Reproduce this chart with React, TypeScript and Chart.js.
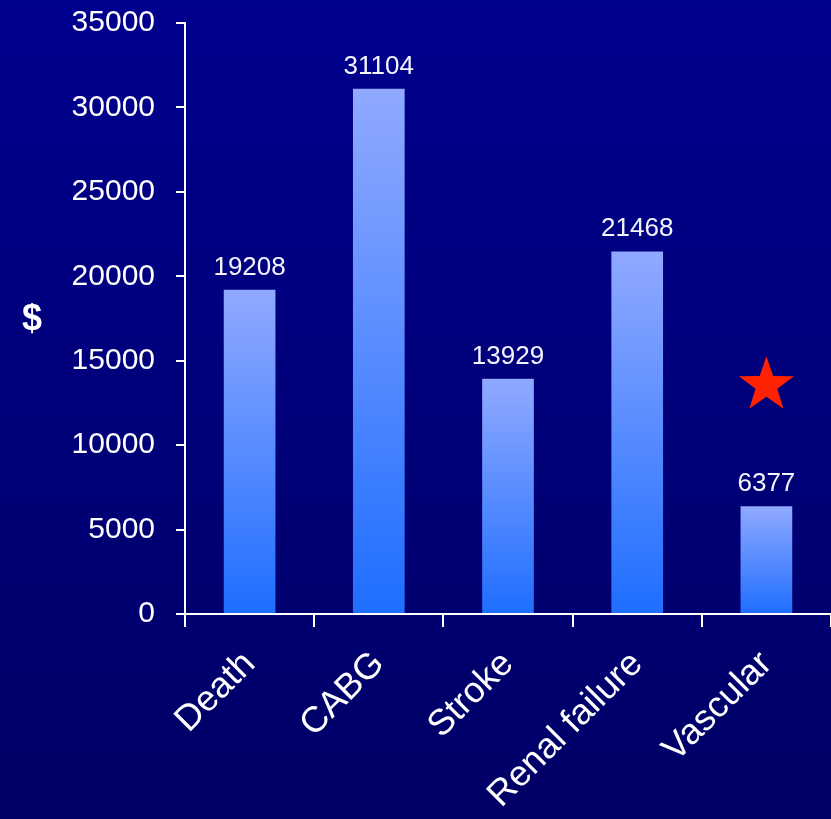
import React, { useEffect, useRef } from "react";
import { Chart, registerables } from "chart.js";

Chart.register(...registerables);

const categories = ["Death", "CABG", "Stroke", "Renal failure", "Vascular"];
const costs = [19208, 31104, 13929, 21468, 6377];
const starCategory = ["Vascular"];
const starValue = [13550];
const yMin = 0;
const yMax = 35000;
const yStep = 5000;
const axisTitle = "$";

const FONT = "'Liberation Sans', Arial, Helvetica, sans-serif";
const CANVAS_SHIFT = 16;

function drawStar(ctx: CanvasRenderingContext2D, cx: number, cy: number, R: number, r: number) {
  ctx.beginPath();
  for (let i = 0; i < 10; i++) {
    const rad = i % 2 === 0 ? R : r;
    const a = -Math.PI / 2 + (i * Math.PI) / 5;
    const x = cx + rad * Math.cos(a);
    const y = cy + rad * Math.sin(a);
    if (i === 0) ctx.moveTo(x, y);
    else ctx.lineTo(x, y);
  }
  ctx.closePath();
  ctx.fill();
}

const overlayPlugin = {
  id: "overlay",
  afterDatasetsDraw(chart: any) {
    const ctx = chart.ctx as CanvasRenderingContext2D;
    const meta = chart.getDatasetMeta(0);
    ctx.save();
    ctx.fillStyle = "#f4f4ff";
    ctx.font = `26px ${FONT}`;
    ctx.textAlign = "center";
    ctx.textBaseline = "alphabetic";
    meta.data.forEach((bar: any, i: number) => {
      ctx.fillText(String(costs[i]), bar.x, bar.y - 15);
    });
    // star
    const xs = chart.scales.x;
    const ys = chart.scales.y;
    const idx = categories.indexOf(starCategory[0]);
    const sx = xs.getPixelForValue(idx);
    const sy = ys.getPixelForValue(starValue[0]);
    ctx.fillStyle = "#ff2200";
    drawStar(ctx, sx, sy, 29, 11.5);
    // $ title
    const ca = chart.chartArea;
    ctx.fillStyle = "#ffffff";
    ctx.font = `bold 36px ${FONT}`;
    ctx.textAlign = "center";
    ctx.textBaseline = "middle";
    ctx.fillText(axisTitle, 32, (ca.top + ca.bottom) / 2 + 2);
    ctx.restore();
  },
};

export default function App() {
  const canvasRef = useRef<HTMLCanvasElement | null>(null);

  useEffect(() => {
    if (!canvasRef.current) return;
    const chart = new Chart(canvasRef.current, {
      type: "bar",
      data: {
        labels: categories,
        datasets: [
          {
            data: costs,
            backgroundColor: (c: any) => {
              const ch = c.chart;
              const { chartArea, scales } = ch;
              if (!chartArea || !scales || !scales.y || c.dataIndex === undefined) return "#5a8cff";
              const yTop = scales.y.getPixelForValue(costs[c.dataIndex]);
              const yBot = scales.y.getPixelForValue(0);
              const g = ch.ctx.createLinearGradient(0, yTop, 0, yBot);
              g.addColorStop(0, "#90a9ff");
              g.addColorStop(1, "#1f6eff");
              return g;
            },
            borderWidth: 0,
            categoryPercentage: 1,
            barPercentage: 0.4,
          },
        ],
      },
      options: {
        animation: false,
        responsive: false,
        maintainAspectRatio: false,
        layout: { padding: { top: 6, right: 0, left: 0, bottom: 0 } },
        plugins: {
          legend: { display: false },
          tooltip: { enabled: false },
          title: { display: false },
        },
        scales: {
          x: {
            afterFit: (s: any) => {
              s.height = 205;
            },
            grid: {
              offset: true,
              drawOnChartArea: false,
              drawTicks: true,
              tickLength: 13,
              color: "#ffffff",
              lineWidth: 2,
            },
            border: { color: "#ffffff", width: 2 },
            ticks: {
              color: "#ffffff",
              font: { family: FONT, size: 36 },
              minRotation: 45,
              maxRotation: 45,
              autoSkip: false,
              padding: 16,
            },
          },
          y: {
            min: yMin,
            max: yMax,
            afterFit: (s: any) => {
              s.width = 185;
            },
            grid: {
              drawOnChartArea: false,
              drawTicks: true,
              tickLength: 9,
              color: "#ffffff",
              lineWidth: 2,
            },
            border: { color: "#ffffff", width: 2 },
            ticks: {
              stepSize: yStep,
              color: "#ffffff",
              font: { family: FONT, size: 30 },
              padding: 21,
              callback: (v: any) => String(v),
            },
          },
        },
      },
      plugins: [overlayPlugin],
    });
    return () => chart.destroy();
  }, []);

  return (
    <div
      style={{
        position: "fixed",
        left: 0,
        top: 0,
        width: 831,
        height: 819,
        background: "linear-gradient(#00008e, #000066)",
        overflow: "hidden",
      }}
    >
      <canvas
        ref={canvasRef}
        width={831}
        height={819 + CANVAS_SHIFT}
        style={{ display: "block", position: "absolute", left: 0, top: -CANVAS_SHIFT }}
      />
    </div>
  );
}
